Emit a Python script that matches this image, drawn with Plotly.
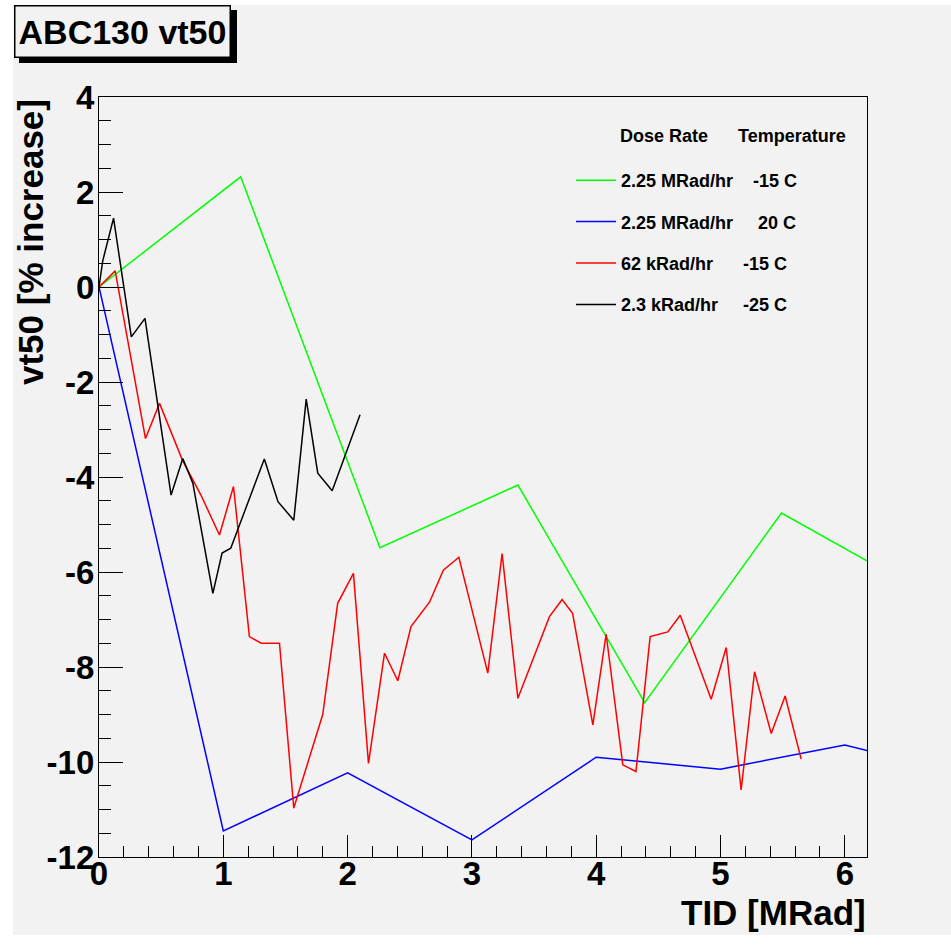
import plotly.graph_objects as go

# ---------------- data ----------------
green_x = [0.0, 1.14, 2.26, 3.37, 4.39, 5.49, 6.6]
green_y = [0.0, 2.32, -5.49, -4.17, -8.75, -4.76, -6.38]

blue_x = [0.0, 1.0, 2.0, 3.0, 4.0, 5.0, 6.0, 7.0]
blue_y = [0.0, -11.45, -10.23, -11.64, -9.9, -10.15, -9.64, -10.3]

red_x = [0.0, 0.13, 0.374, 0.487, 0.67, 0.82, 0.969, 1.082, 1.21, 1.305, 1.452,
         1.567, 1.80, 1.92, 2.047, 2.168, 2.297, 2.404, 2.51, 2.58, 2.66, 2.77,
         2.895, 3.128, 3.243, 3.37, 3.624, 3.726, 3.81, 3.973, 4.08, 4.214, 4.32,
         4.434, 4.576, 4.676, 4.925, 5.046, 5.166, 5.274, 5.408, 5.52, 5.649]
red_y = [0.0, 0.34, -3.19, -2.45, -3.64, -4.38, -5.22, -4.2, -7.36, -7.5, -7.5,
         -10.97, -9.0, -6.66, -6.03, -10.03, -7.71, -8.29, -7.15, -6.9, -6.63, -5.96,
         -5.69, -8.13, -5.61, -8.66, -6.94, -6.58, -6.87, -9.22, -7.31, -10.06, -10.2,
         -7.36, -7.26, -6.91, -8.68, -7.59, -10.59, -8.1, -9.4, -8.61, -9.94]

black_x = [0.0, 0.03, 0.117, 0.26, 0.37, 0.58, 0.674, 0.755, 0.916, 0.99, 1.06,
           1.33, 1.44, 1.567, 1.667, 1.76, 1.876, 2.10]
black_y = [0.0, 0.55, 1.45, -1.05, -0.66, -4.38, -3.61, -4.13, -6.45, -5.6, -5.5,
           -3.62, -4.52, -4.91, -2.36, -3.92, -4.29, -2.69]

dose_rates = ["2.25 MRad/hr", "2.25 MRad/hr", "62 kRad/hr", "2.3 kRad/hr"]
temperatures = ["-15 C", "20 C", "-15 C", "-25 C"]
gaps = [4, 5, 6, 5]
colors = ["#00ff00", "#0000ff", "#ff0000", "#000000"]

x_ticks = [0, 1, 2, 3, 4, 5, 6]
x_ticktext = ["0", "1", "2", "3", "4", "5", "6"]
y_ticks = [4, 2, 0, -2, -4, -6, -8, -10, -12]
y_ticktext = ["4", "2", "0", "-2", "-4", "-6", "-8", "-10", "-12"]

# ---------------- layout geometry ----------------
W, H = 951, 947
L, R, T, B = 99, 84, 97, 90
PW, PH = W - L - R, H - T - B
BG = "#f2f2f2"
FONT = "Liberation Sans, Arial, Helvetica, sans-serif"


def px(x):
    return (x - L) / PW


def py(y):
    return (H - B - y) / PH


fig = go.Figure()
series = [(green_x, green_y), (blue_x, blue_y), (red_x, red_y), (black_x, black_y)]
for i, (xs, ys) in enumerate(series):
    name = dose_rates[i] + "\u00a0" * gaps[i] + temperatures[i]
    fig.add_trace(go.Scatter(x=xs, y=ys, mode="lines", name=name,
                             legendgroup=str(i),
                             line=dict(color=colors[i], width=1.5)))

axis_common = dict(showgrid=False, zeroline=False, showline=True, linecolor="black",
                   linewidth=1.2, mirror=True, ticks="inside", tickcolor="black",
                   tickfont=dict(family=FONT, size=33, color="black", weight="bold"))

fig.update_xaxes(range=[0, PW / 124.3], tickvals=x_ticks, ticktext=x_ticktext, ticklen=22,
                 ticklabelstandoff=-13,
                 minor=dict(dtick=0.2, ticks="inside", ticklen=11, tickcolor="black"),
                 **axis_common)
fig.update_yaxes(range=[-12, 4], tickvals=y_ticks, ticktext=y_ticktext, ticklen=24,
                 ticklabelstandoff=-3,
                 minor=dict(dtick=0.5, ticks="inside", ticklen=12, tickcolor="black"),
                 **axis_common)

shapes = [
    dict(type="rect", xref="paper", yref="paper", x0=px(13), x1=px(W + 5),
         y0=py(935), y1=py(5), fillcolor=BG, line=dict(width=0), layer="below"),
    dict(type="rect", xref="paper", yref="paper", x0=px(19), x1=px(237),
         y0=py(63), y1=py(10), fillcolor="black", line=dict(width=0), layer="above"),
]

annotations = [
    dict(text="<b>ABC130 vt50</b>", xref="paper", yref="paper", x=px(14), y=py(5),
         xanchor="left", yanchor="top", showarrow=False, width=214, height=50,
         bgcolor=BG, bordercolor="black", borderwidth=1.5, borderpad=0,
         font=dict(family=FONT, size=34, color="black")),
    dict(text="<b>vt50 [% increase]</b>", xref="paper", yref="paper", x=px(30), y=py(97),
         xanchor="center", yanchor="top", textangle=-90, showarrow=False,
         font=dict(family=FONT, size=35, color="black")),
    dict(text="<b>TID [MRad]</b>", xref="paper", yref="paper", x=px(868), y=py(912),
         xanchor="right", yanchor="middle", showarrow=False,
         font=dict(family=FONT, size=35, color="black")),
    dict(text="<b>Dose Rate" + "\u00a0" * 6 + "Temperature</b>", xref="paper", yref="paper",
         x=px(618), y=py(136), xanchor="left", yanchor="middle", showarrow=False,
         font=dict(family=FONT, size=18, color="black")),
]

fig.update_layout(
    width=W, height=H, margin=dict(l=L, r=R, t=T, b=B),
    paper_bgcolor="white", plot_bgcolor=BG,
    shapes=shapes, annotations=annotations,
    showlegend=True,
    legend=dict(x=px(571), y=py(162), xanchor="left", yanchor="top",
                bgcolor="rgba(0,0,0,0)", borderwidth=0, tracegroupgap=15,
                itemwidth=40,
                font=dict(family=FONT, size=18, color="black", weight="bold")),
)

fig.write_html("out.html")
